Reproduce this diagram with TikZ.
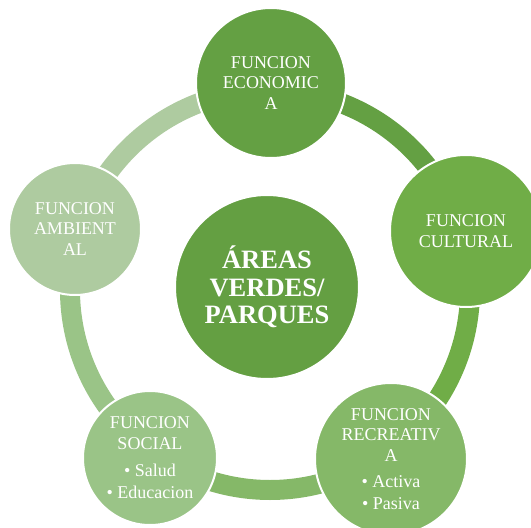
\documentclass[tikz,border=0pt]{standalone}
\usepackage{fontspec}
\setmainfont{Liberation Serif}
\usetikzlibrary{positioning}
\definecolor{verdeCentro}{HTML}{649F42}
\definecolor{verdeEco}{HTML}{64A043}
\definecolor{verdeCul}{HTML}{70AD47}
\definecolor{verdeRec}{HTML}{85B868}
\definecolor{verdeSoc}{HTML}{9AC487}
\definecolor{verdeAmb}{HTML}{AECBA0}

\begin{document}
\begin{tikzpicture}[x=1pt, y=-1pt,
    funcion/.style={circle, draw=white, line width=2pt, inner sep=0pt, align=center, text=white, font=\fontsize{18}{20.5}\selectfont},
    aro/.style={line width=20pt}]
    \useasboundingbox (0,0) rectangle (531,528);
    \coordinate (ring) at (270,290);
    \draw[aro, verdeEco] ([shift={(ring)}]-90:200) arc (-90:-18:200);
    \draw[aro, verdeCul] ([shift={(ring)}]-18:200) arc (-18:54:200);
    \draw[aro, verdeRec] ([shift={(ring)}]54:200) arc (54:126:200);
    \draw[aro, verdeSoc] ([shift={(ring)}]126:200) arc (126:198:200);
    \draw[aro, verdeAmb] ([shift={(ring)}]198:200) arc (198:270:200);
    \node[funcion, fill=verdeEco, minimum size=150pt] (economica) at (271,83) {FUNCION\\ECONOMIC\\A};
    \node[funcion, fill=verdeCul, minimum size=152pt] (cultural) at (466,231) {FUNCION\\CULTURAL};
    \node[funcion, fill=verdeRec, minimum size=152pt] (recreativa) at (391,459) {FUNCION\\RECREATIV\\A\\[6pt]\textbullet\ Activa\\[1.5pt]\textbullet\ Pasiva};
    \node[funcion, fill=verdeSoc, minimum size=134pt] (social) at (150,458) {FUNCION\\SOCIAL\\[7pt]\textbullet\ Salud\\[1.5pt]\textbullet\ Educacion};
    \node[funcion, fill=verdeAmb, minimum size=132pt] (ambiental) at (75,229) {FUNCION\\AMBIENT\\AL};
    \node[funcion, fill=verdeCentro, minimum size=184pt, font=\bfseries\fontsize{26.5}{27.5}\selectfont] (areas) at (267,287) {ÁREAS\\VERDES/\\PARQUES};
\end{tikzpicture}
\end{document}
